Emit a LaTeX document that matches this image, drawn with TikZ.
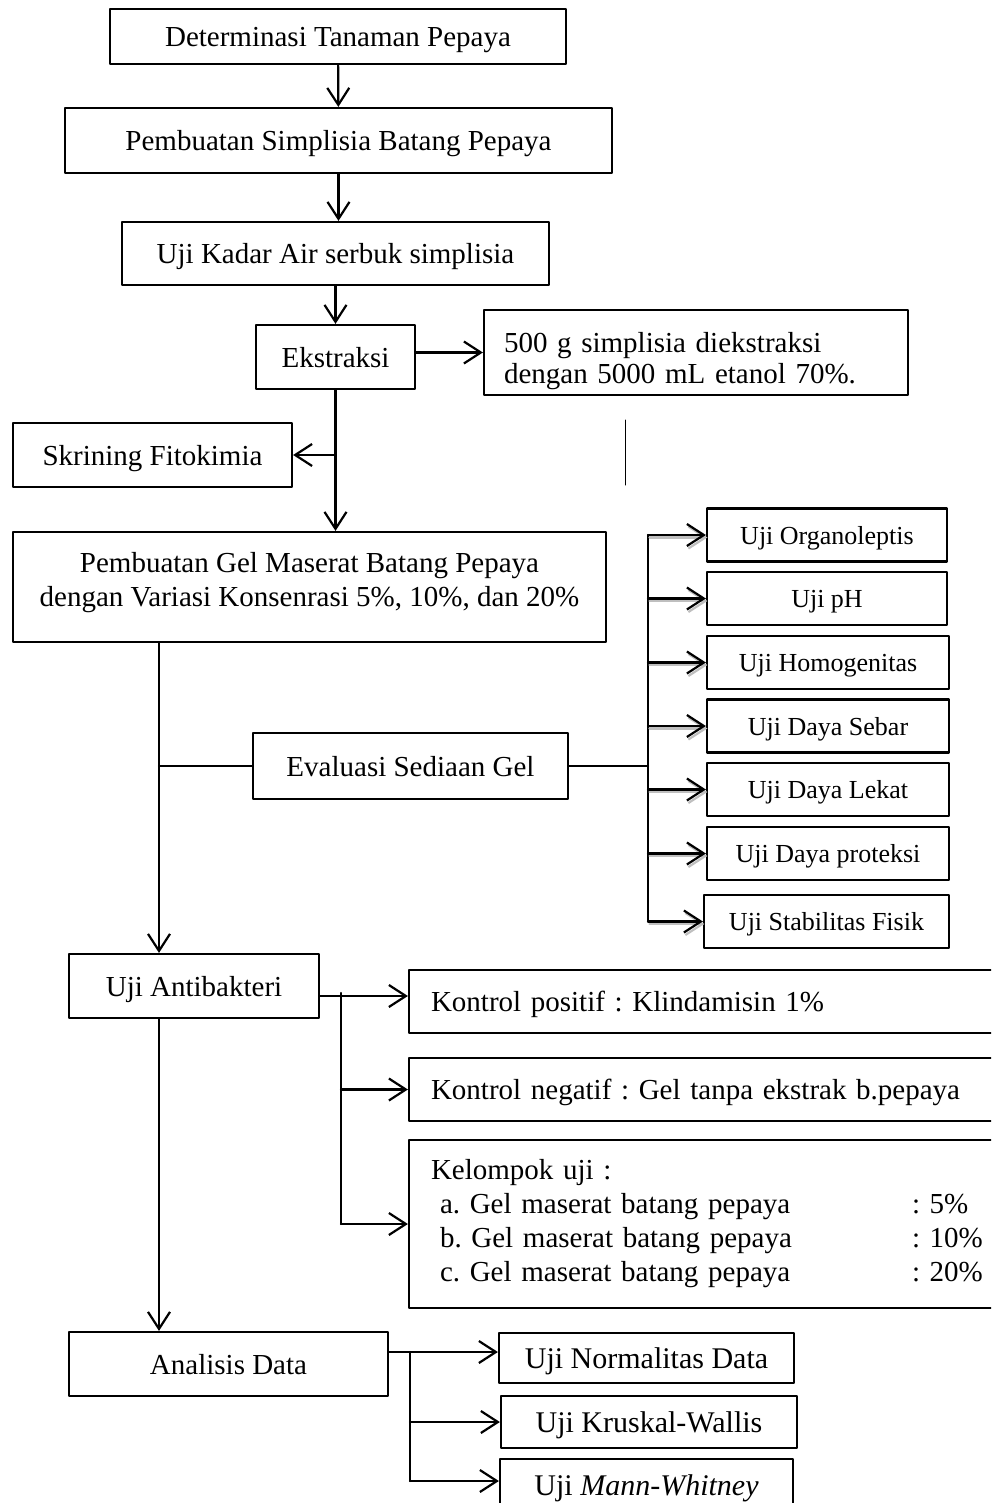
\documentclass[tikz,border=0pt]{standalone}
\usepackage{fontspec}
\setmainfont{Liberation Serif}
\usetikzlibrary{arrows.meta}
\frenchspacing
\newcommand{\besar}{\fontsize{29}{34}\selectfont}
\newcommand{\kecil}{\fontsize{26}{30}\selectfont}
\tikzset{
	banyak/.style={draw, inner sep=0pt, align=center},
	box/.style={banyak, text depth=0pt},
	uji/.style={box, font=\kecil, minimum height=53},
	kontrol/.style={banyak, text width=600pt, align=left, inner xsep=22pt},
	bayang/.style={preaction={draw=black!25, transform canvas={shift={(1.5pt,-2.5pt)}}}}
}
\begin{document}
\begin{tikzpicture}[x=1pt, y=-1pt, font=\besar, line join=round, line cap=round, line width=2.2pt, >={Straight Barb[length=17pt,width=22pt]}]
	\clip (0,0) rectangle (991,1503);
	\node[box, minimum width=456, minimum height=55] (det) at (338,36.5) {Determinasi Tanaman Pepaya};
	\node[box, minimum width=547, minimum height=65] (simp) at (338.5,140.5) {Pembuatan Simplisia Batang Pepaya};
	\node[box, minimum width=427, minimum height=63] (kadar) at (335.5,253.5) {Uji Kadar Air serbuk simplisia};
	\node[box, minimum width=159, minimum height=64] (ekstr) at (335.5,357) {Ekstraksi};
	\node[banyak, minimum height=85, text width=384pt, align=left, inner xsep=20pt, text depth=21pt, font=\fontsize{29}{31}\selectfont] (maser) at (696,352.5) {500 g simplisia diekstraksi\\dengan 5000 mL etanol 70\%.};
	\node[box, minimum width=279, minimum height=64] (skrin) at (152.5,455) {Skrining Fitokimia};
	\node[banyak, minimum width=593, minimum height=110, text depth=16pt] (gel) at (309.5,587) {Pembuatan Gel Maserat Batang Pepaya\\dengan Variasi Konsenrasi 5\%, 10\%, dan 20\%};
	\node[box, minimum width=315, minimum height=66] (eval) at (410.5,766) {Evaluasi Sediaan Gel};
	\node[uji, minimum width=240] (org) at (827,535) {Uji Organoleptis};
	\node[uji, minimum width=240] (ph) at (827,598.5) {Uji pH};
	\node[uji, minimum width=242] (hom) at (828,662.5) {Uji Homogenitas};
	\node[uji, minimum width=242] (sebar) at (828,726) {Uji Daya Sebar};
	\node[uji, minimum width=242] (lekat) at (828,789.5) {Uji Daya Lekat};
	\node[uji, minimum width=242] (prot) at (828,853.5) {Uji Daya proteksi};
	\node[uji, minimum width=245] (stab) at (826.5,921.5) {Uji Stabilitas Fisik};
	\node[box, minimum width=250, minimum height=64] (anti) at (194,986) {Uji Antibakteri};
	\node[kontrol, text depth=0pt, minimum height=63] (kpos) at (731,1001.5) {Kontrol positif : Klindamisin 1\%};
	\node[kontrol, text depth=0pt, minimum height=63] (kneg) at (731,1089.5) {Kontrol negatif : Gel tanpa ekstrak b.pepaya};
	\node[kontrol, minimum height=168] (kelompok) at (731,1224) {Kelompok uji :\\
		\hspace*{9pt}\makebox[472pt][l]{a. Gel maserat batang pepaya}: 5\%\\
		\hspace*{9pt}\makebox[472pt][l]{b. Gel maserat batang pepaya}: 10\%\\
		\hspace*{9pt}\makebox[472pt][l]{c. Gel maserat batang pepaya}: 20\%};
	\node[box, minimum width=319, minimum height=64] (ana) at (228.5,1364) {Analisis Data};
	\node[box, minimum width=295, minimum height=50, font=\fontsize{30}{36}\selectfont] (norm) at (646.5,1358) {Uji Normalitas Data};
	\node[box, minimum width=296, minimum height=52, font=\fontsize{30}{36}\selectfont] (krus) at (649,1422) {Uji Kruskal-Wallis};
	\node[box, minimum width=293, minimum height=52, font=\fontsize{30}{36}\selectfont] (mann) at (646.5,1485) {Uji \textit{Mann-Whitney}};
	\coordinate (s1) at (625,420);
	\coordinate (s2) at (625,485);
	\coordinate (trunk) at (159,0);
	\coordinate (evalbus) at (648,0);
	\coordinate (kbus) at (341,996);
	\coordinate (abus) at (410,1352);
	\draw[->] (det) -- (simp);
	\draw[->] (simp.south) -- (simp.south |- kadar.north);
	\draw[->] (kadar) -- (ekstr);
	\draw[->] (ekstr.east |- maser.west) -- (maser.west);
	\draw[->] (ekstr) -- (ekstr |- gel.north);
	\draw[->] (ekstr |- skrin.east) -- (skrin.east);
	\draw[line width=1pt] (s1) -- (s2);
	\draw[->] (gel.south -| trunk) -- (anti.north -| trunk);
	\draw (trunk |- eval.west) -- (eval.west);
	\draw (eval.east) -- (eval.east -| evalbus);
	\draw (evalbus |- org.west) -- (evalbus |- stab.west);
	\draw[->, bayang] (evalbus |- org.west) -- (org.west);
	\draw[->, bayang] (evalbus |- ph.west) -- (ph.west);
	\draw[->, bayang] (evalbus |- hom.west) -- (hom.west);
	\draw[->, bayang] (evalbus |- sebar.west) -- (sebar.west);
	\draw[->, bayang] (evalbus |- lekat.west) -- (lekat.west);
	\draw[->, bayang] (evalbus |- prot.west) -- (prot.west);
	\draw[->, bayang] (evalbus |- stab.west) -- (stab.west);
	\draw[->] (anti.east |- kbus) -- (kpos.west |- kbus);
	\draw ([yshift=3pt]kbus) -- (kbus |- kelompok.west);
	\draw[->] (kbus |- kneg.west) -- (kneg.west);
	\draw[->] (kbus |- kelompok.west) -- (kelompok.west);
	\draw[->] (anti.south -| trunk) -- (ana.north -| trunk);
	\draw[->] (ana.east |- abus) -- (norm.west |- abus);
	\draw (abus) -- ([yshift=4pt]mann.west -| abus);
	\draw[->] (abus |- krus.west) -- (krus.west);
	\draw[->] ([yshift=4pt]mann.west -| abus) -- ([yshift=4pt]mann.west);
\end{tikzpicture}
\end{document}
